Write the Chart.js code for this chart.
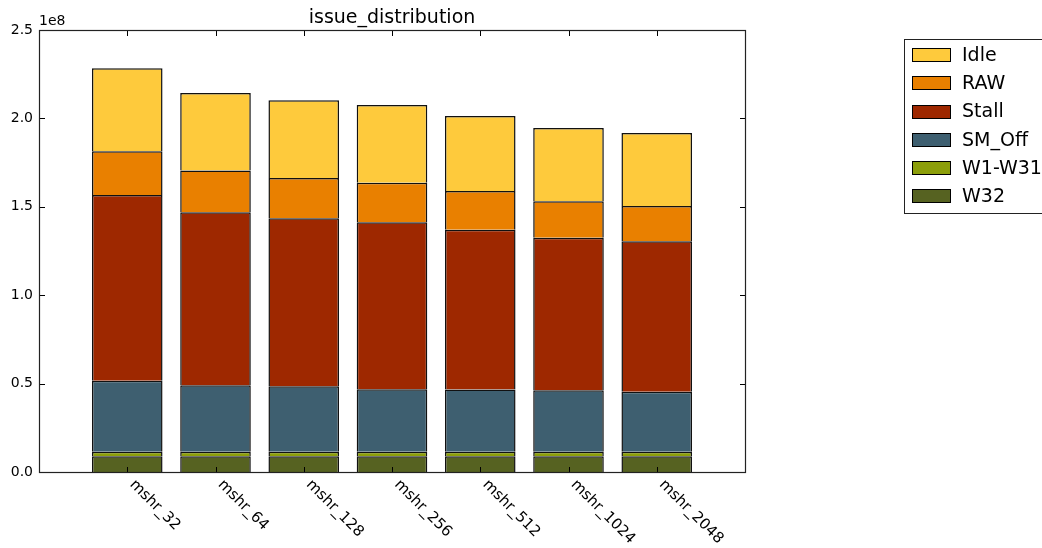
<!DOCTYPE html>
<html>
<head>
<meta charset="utf-8">
<title>issue_distribution</title>
<script src="https://cdn.jsdelivr.net/npm/chart.js@4/dist/chart.umd.min.js"></script>
<style>
  html, body { margin: 0; padding: 0; background: #fff; }
  #wrap { position: relative; width: 1042px; height: 548px; }
</style>
</head>
<body>
<div id="wrap"><canvas id="c" width="1042" height="548"></canvas></div>
<script>
// Configurations on the x axis
const categories = ['mshr_32', 'mshr_64', 'mshr_128', 'mshr_256', 'mshr_512', 'mshr_1024', 'mshr_2048'];

// Issue-slot breakdown per configuration (cycles)
const w32    = [8.9e6, 8.9e6, 8.9e6, 8.9e6, 8.9e6, 8.9e6, 8.9e6];
const w1w31  = [2.6e6, 2.6e6, 2.6e6, 2.6e6, 2.6e6, 2.6e6, 2.6e6];
const smOff  = [40.1e6, 37.5e6, 37.0e6, 35.3e6, 35.1e6, 34.7e6, 33.9e6];
const stall  = [105.1e6, 97.9e6, 95.0e6, 94.4e6, 90.4e6, 86.3e6, 85.1e6];
const raw    = [24.7e6, 23.7e6, 22.8e6, 22.4e6, 21.9e6, 20.6e6, 20.0e6];
const idle   = [46.9e6, 43.8e6, 43.9e6, 44.0e6, 42.4e6, 41.5e6, 41.2e6];

// Y axis ticks
const yTickValues = [0, 0.5e8, 1.0e8, 1.5e8, 2.0e8, 2.5e8];
const yTickLabels = ['0.0', '0.5', '1.0', '1.5', '2.0', '2.5'];
const yOffsetLabel = '1e8';

const chartTitle = 'issue_distribution';

// Stack order, bottom to top
const seriesNames  = ['W32', 'W1-W31', 'SM_Off', 'Stall', 'RAW', 'Idle'];
const seriesValues = [w32, w1w31, smOff, stall, raw, idle];
const seriesColors = ['#566221', '#8C9E0A', '#3E5F70', '#9E2800', '#E98000', '#FECA3C'];

const FONT = '"DejaVu Sans", "Liberation Sans", sans-serif';

const datasets = seriesNames.map((name, k) => ({
  label: name,
  data: seriesValues[k].map((v, i) => ({ x: i, y: v })),
  backgroundColor: seriesColors[k],
  borderColor: '#111',
  borderWidth: 1.5,
  categoryPercentage: 0.8,
  barPercentage: 1.0
}));

// Frame, inward ticks, tick labels, title and legend in the classic style
const decor = {
  id: 'decor',
  afterDatasetsDraw(chart) {
    const { ctx, chartArea: a, scales: { x, y } } = chart;
    const L = Math.round(a.left) + 0.5, R = Math.round(a.right) + 0.5;
    const T = Math.round(a.top) + 0.5, B = Math.round(a.bottom) + 0.5;
    const tick = 5.5;
    ctx.save();
    ctx.strokeStyle = '#000';
    ctx.lineWidth = 1;

    // y ticks on both sides
    ctx.beginPath();
    yTickValues.forEach(v => {
      const py = Math.round(y.getPixelForValue(v)) + 0.5;
      ctx.moveTo(L, py); ctx.lineTo(L + tick, py);
      ctx.moveTo(R, py); ctx.lineTo(R - tick, py);
    });
    // x ticks top and bottom
    categories.forEach((c, i) => {
      const px = Math.round(x.getPixelForValue(i)) + 0.5;
      ctx.moveTo(px, B); ctx.lineTo(px, B - tick);
      ctx.moveTo(px, T); ctx.lineTo(px, T + tick);
    });
    ctx.stroke();

    // frame
    ctx.strokeStyle = '#222';
    ctx.lineWidth = 1.2;
    ctx.strokeRect(L, T, R - L, B - T);

    // y tick labels
    ctx.fillStyle = '#000';
    ctx.font = '14px ' + FONT;
    ctx.textAlign = 'right';
    ctx.textBaseline = 'middle';
    yTickValues.forEach((v, k) => {
      ctx.fillText(yTickLabels[k], a.left - 6, y.getPixelForValue(v));
    });

    // offset label
    ctx.textAlign = 'left';
    ctx.textBaseline = 'alphabetic';
    ctx.fillText(yOffsetLabel, a.left, a.top - 5);

    // rotated x labels
    ctx.font = '15px ' + FONT;
    categories.forEach((c, i) => {
      const px = x.getPixelForValue(i);
      ctx.save();
      ctx.translate(px + 2, a.bottom + 13);
      ctx.rotate(Math.PI / 4);
      ctx.textAlign = 'left';
      ctx.textBaseline = 'alphabetic';
      ctx.fillText(c, 0, 0);
      ctx.restore();
    });

    // title
    ctx.font = '19px ' + FONT;
    ctx.textAlign = 'center';
    ctx.textBaseline = 'alphabetic';
    ctx.fillText(chartTitle, (a.left + a.right) / 2, 23);

    // legend (top entry first)
    const lx = 904.5, ly = 39.5, lh = 174;
    ctx.fillStyle = '#fff';
    ctx.fillRect(lx, ly, 160, lh);
    ctx.strokeStyle = '#222';
    ctx.lineWidth = 1;
    ctx.strokeRect(lx, ly, 160, lh);
    ctx.font = '19px ' + FONT;
    ctx.textAlign = 'left';
    ctx.textBaseline = 'middle';
    const order = seriesNames.map((n, k) => k).reverse();
    order.forEach((k, row) => {
      const cy = 55.3 + row * 28.1;
      ctx.fillStyle = seriesColors[k];
      ctx.fillRect(912, Math.round(cy - 7), 39, 14);
      ctx.strokeStyle = '#000';
      ctx.strokeRect(912.5, Math.round(cy - 7) + 0.5, 38, 13);
      ctx.fillStyle = '#000';
      ctx.fillText(seriesNames[k], 962, cy + 1);
    });
    ctx.restore();
  }
};

new Chart(document.getElementById('c'), {
  type: 'bar',
  data: { datasets },
  options: {
    responsive: false,
    animation: false,
    events: [],
    layout: { padding: { left: 39, right: 297, top: 30, bottom: 76 } },
    scales: {
      x: { type: 'linear', display: false, stacked: true, offset: false, min: -1, max: 7 },
      y: { type: 'linear', display: false, stacked: true, min: 0, max: 2.5e8 }
    },
    plugins: {
      legend: { display: false },
      title: { display: false },
      tooltip: { enabled: false }
    }
  },
  plugins: [decor]
});
</script>
</body>
</html>
